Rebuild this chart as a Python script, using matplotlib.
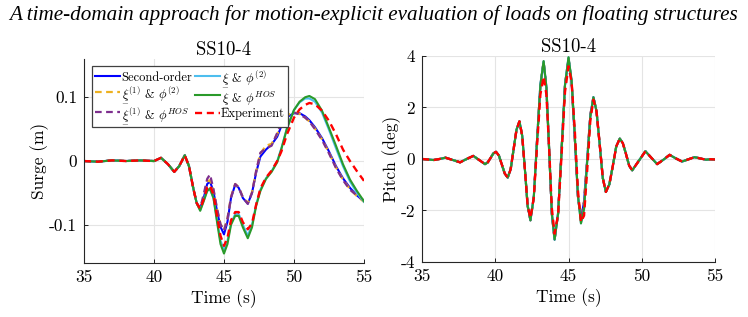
import matplotlib
matplotlib.use("Agg")
import matplotlib.pyplot as plt

plt.rcParams['font.family'] = ['cmr10', 'DejaVu Serif']
plt.rcParams['mathtext.fontset'] = 'cm'
plt.rcParams['axes.unicode_minus'] = False
plt.rcParams['axes.formatter.use_mathtext'] = True

# ---------------- data ----------------
t_surge = [35, 36, 37, 38, 39, 40, 40.5, 41.0, 41.45, 41.8, 42.2, 42.5, 42.8, 43.05, 43.3,
           43.55, 43.8, 44.0, 44.25, 44.5, 44.75, 45.0, 45.25, 45.5, 45.8, 46.05, 46.35, 46.7,
           47.0, 47.3, 47.6, 48.0, 48.4, 48.8, 49.1, 49.5, 50.0, 50.4, 50.8, 51.1, 51.5, 52.0,
           52.5, 53.0, 53.5, 54.0, 54.5, 55.0]
surge_early = [0.0, -0.001, 0.001, 0.0, 0.001, 0.0, 0.005, -0.005, -0.017, -0.008, 0.009,
               -0.008, -0.042, -0.066]
surge_so = surge_early + [-0.074, -0.058, -0.036, -0.032, -0.048, -0.078, -0.103, -0.115, -0.095,
           -0.058, -0.037, -0.042, -0.058, -0.067, -0.05, -0.018, 0.007, 0.018, 0.026, 0.038,
           0.055, 0.069, 0.075, 0.075, 0.07, 0.064, 0.053, 0.036, 0.015, -0.008, -0.027, -0.042,
           -0.054, -0.063]
surge_x1p2 = surge_early + [-0.074, -0.056, -0.032, -0.03, -0.046, -0.075, -0.099, -0.108, -0.09,
             -0.056, -0.036, -0.041, -0.057, -0.066, -0.049, -0.016, 0.012, 0.024, 0.027, 0.042,
             0.058, 0.072, 0.076, 0.074, 0.068, 0.062, 0.051, 0.034, 0.013, -0.01, -0.029, -0.044,
             -0.055, -0.064]
surge_x1hos = surge_early + [-0.074, -0.052, -0.028, -0.021, -0.044, -0.074, -0.099, -0.109, -0.09,
              -0.057, -0.036, -0.041, -0.057, -0.067, -0.05, -0.015, 0.013, 0.02, 0.024, 0.044,
              0.06, 0.073, 0.076, 0.073, 0.068, 0.062, 0.05, 0.033, 0.012, -0.011, -0.03, -0.045,
              -0.054, -0.062]
surge_xp2 = surge_early + [-0.077, -0.062, -0.046, -0.045, -0.058, -0.092, -0.125, -0.139, -0.125,
            -0.098, -0.083, -0.083, -0.1, -0.117, -0.1, -0.068, -0.045, -0.027, -0.016, 0.0, 0.02,
            0.052, 0.08, 0.092, 0.098, 0.098, 0.093, 0.076, 0.049, 0.02, -0.008, -0.032, -0.05,
            -0.064]
surge_xhos = surge_early + [-0.078, -0.063, -0.047, -0.043, -0.058, -0.095, -0.13, -0.145, -0.13,
             -0.1, -0.086, -0.086, -0.104, -0.121, -0.104, -0.07, -0.047, -0.028, -0.017, -0.002,
             0.019, 0.051, 0.08, 0.093, 0.1, 0.102, 0.097, 0.079, 0.052, 0.024, -0.005, -0.029,
             -0.047, -0.063]
surge_exp = surge_early + [-0.075, -0.06, -0.042, -0.038, -0.053, -0.086, -0.117, -0.133, -0.12,
            -0.093, -0.08, -0.08, -0.096, -0.107, -0.098, -0.068, -0.043, -0.026, -0.015, 0.0,
            0.015, 0.042, 0.068, 0.081, 0.088, 0.091, 0.089, 0.079, 0.063, 0.042, 0.018, 0.0,
            -0.016, -0.031]

t_pitch = [35.0, 35.4, 35.8, 36.2, 36.6, 37.1, 37.6, 38.05, 38.5, 38.9, 39.3,
           39.49, 39.68, 39.86, 40.05, 40.25, 40.45, 40.65, 40.85, 41.05, 41.25, 41.45, 41.65,
           41.84, 42.03, 42.21, 42.4, 42.63, 42.85, 43.08, 43.3, 43.49, 43.68, 43.86, 44.05,
           44.29, 44.53, 44.76, 45.0, 45.21, 45.43, 45.64, 45.85, 46.06, 46.28, 46.49, 46.7,
           46.91, 47.13, 47.34, 47.55, 47.79, 48.03, 48.26, 48.5, 48.71, 48.93, 49.14, 49.35,
           49.8, 50.25, 50.65, 51.05, 51.5, 51.9, 52.3, 52.75, 53.2, 53.6, 54.0, 54.4, 54.7, 55.0]
pitch_early = [0.0, -0.02, -0.04, 0.0, 0.05, -0.04, -0.13, 0.0, 0.12, -0.04, -0.2,
               -0.13, 0.04, 0.21, 0.28, 0.13, -0.22, -0.57, -0.72, -0.40, 0.37, 1.14, 1.46,
               0.90, -0.46, -1.82]
pitch_late = [1.86, 0.56, -0.74, -1.28, -0.98, -0.25, 0.49, 0.79, 0.61, 0.18, -0.26, -0.44,
              -0.07, 0.3, 0.05, -0.2, -0.02, 0.16, 0.03, -0.1, -0.01, 0.07, 0.02, -0.03, -0.01,
              -0.02]
pitch_so = pitch_early + [-2.38, -1.48, 0.70, 2.87, 3.77, 2.76, 0.32, -2.12, -3.13, -2.10, 0.39,
                          2.87, 3.9, 2.99, 0.78, -1.44, -2.35, -1.66, 0.03, 1.71, 2.4] + pitch_late
pitch_hos = pitch_early + [-2.38, -1.48, 0.70, 2.88, 3.8, 2.80, 0.35, -2.10, -3.13, -2.12, 0.38,
                           2.88, 3.95, 3.05, 0.9, -1.40, -2.5, -1.95, -0.05, 1.65, 2.4] + pitch_late
pitch_exp = pitch_early + [-2.3, -1.5, 0.5, 2.5, 3.2, 2.5, 0.4, -1.9, -2.9, -2.15, 0.2,
                           2.6, 3.6, 3.0, 1.1, -1.2, -2.45, -2.2, -0.4, 1.5, 2.3] + pitch_late

XI = r'\underset{-}{\xi}'
labels = ['Second-order',
          r'$' + XI + r'^{(1)}$ & $\phi^{(2)}$',
          r'$' + XI + r'^{(1)}$ & $\phi^{HOS}$',
          r'$' + XI + r'$ & $\phi^{(2)}$',
          r'$' + XI + r'$ & $\phi^{HOS}$',
          'Experiment']
colors = ['#0000ff', '#edb120', '#7e2f8e', '#4dbeee', '#2a9a2a', '#ff0000']
styles = ['-', (0, (3, 2)), (0, (3, 2)), '-', '-', (0, (3, 2))]
xticks = [35, 40, 45, 50, 55]
surge_ticks = [-0.1, 0, 0.1]
surge_ticklabels = ['-0.1', '0', '0.1']
pitch_ticks = [-4, -2, 0, 2, 4]
pitch_ticklabels = ['-4', '-2', '0', '2', '4']

# ---------------- figure ----------------
fig = plt.figure(figsize=(7.48, 3.17), dpi=100)
ax1 = fig.add_axes([0.1123, 0.170, 0.3743, 0.644])
ax2 = fig.add_axes([0.5642, 0.1735, 0.3917, 0.650])

surge_series = [surge_so, surge_x1p2, surge_x1hos, surge_xp2, surge_xhos, surge_exp]
pitch_series = [pitch_so, pitch_so, pitch_so, pitch_hos, pitch_hos, pitch_exp]
lws = [1.5, 1.6, 1.6, 1.5, 1.5, 1.7]

for ax, series in ((ax1, surge_series), (ax2, pitch_series)):
    tt = t_surge if ax is ax1 else t_pitch
    for y, c, ls, lab, lw in zip(series, colors, styles, labels, lws):
        ax.plot(tt, y, color=c, linestyle=ls, lw=lw, label=lab)
    ax.set_xlim(35, 55)
    ax.set_xticks(xticks)
    ax.set_xticklabels([str(v) for v in xticks])
    ax.grid(True, color='#e4e4e4', lw=0.8)
    ax.set_axisbelow(True)
    for s in ('top', 'right'):
        ax.spines[s].set_visible(False)
    for s in ('left', 'bottom'):
        ax.spines[s].set_linewidth(0.8)
        ax.spines[s].set_color('#262626')
    ax.tick_params(direction='in', length=3, width=0.6, labelsize=12.5, pad=5)
    ax.set_xlabel('Time (s)', fontsize=12.5, labelpad=3)
    ax.set_title('SS10-4', fontsize=13.5, pad=3)

ax1.set_ylim(-0.16, 0.16)
ax1.set_yticks(surge_ticks)
ax1.set_yticklabels(surge_ticklabels)
ax1.set_ylabel('Surge (m)', fontsize=12.5, labelpad=0)
ax2.set_ylim(-4, 4)
ax2.set_yticks(pitch_ticks)
ax2.set_yticklabels(pitch_ticklabels)
ax2.set_ylabel('Pitch (deg)', fontsize=12.5, labelpad=0)

leg = ax1.legend(loc='upper left', ncol=2, fontsize=9, frameon=True, fancybox=False,
                 framealpha=1, edgecolor='#404040', borderpad=0.2, handlelength=2.0,
                 handletextpad=0.1, columnspacing=0.25, labelspacing=0.05,
                 borderaxespad=0, bbox_to_anchor=(0.029, 0.966))
leg.get_frame().set_linewidth(0.9)

fig.text(0.5, 0.953, 'A time-domain approach for motion-explicit evaluation of loads on floating structures',
         ha='center', va='center', fontsize=15.2, style='italic', family='Liberation Serif')

fig.savefig('out.png', dpi=100)
